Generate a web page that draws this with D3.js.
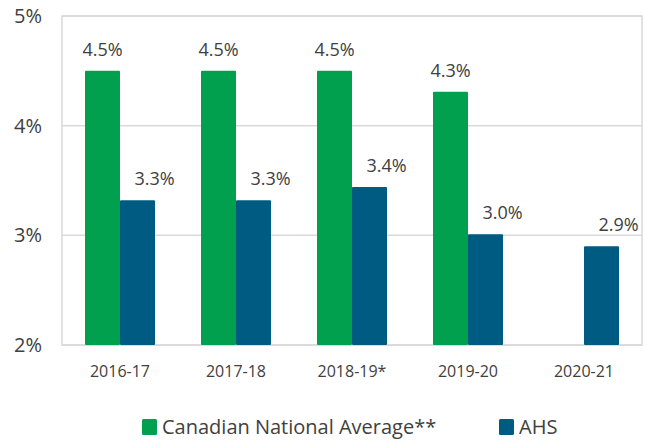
<!DOCTYPE html>
<html>
<head>
<meta charset="utf-8">
<script src="https://cdn.jsdelivr.net/npm/d3@7"></script>
<style>
body { margin: 0; background: #fff; }
text { font-family: "Open Sans", sans-serif; fill: #404040; }
</style>
</head>
<body>
<svg id="main_svg" width="646" height="440"></svg>
<script>
const years = ["2016-17", "2017-18", "2018-19*", "2019-20", "2020-21"]
const national = [4.5, 4.5, 4.5, 4.31, null]
const nationalLabels = ["4.5%", "4.5%", "4.5%", "4.3%", ""]
const ahs = [3.32, 3.32, 3.44, 3.01, 2.9]
const ahsLabels = ["3.3%", "3.3%", "3.4%", "3.0%", "2.9%"]
const yTicks = [2, 3, 4, 5]
const seriesNames = ["Canadian National Average**", "AHS"]
const colors = ["#00A04F", "#005B82"]

const svg = d3.select("#main_svg")
const plotLeft = 62, plotRight = 642, plotTop = 16, plotBottom = 345

const x = d3.scaleBand().domain(years).range([plotLeft, plotRight]).paddingInner(0).paddingOuter(0)
const y = d3.scaleLinear().domain([2, 5]).range([plotBottom, plotTop])
const barW = 35

// gridlines
svg.append("g")
    .selectAll("line")
    .data(yTicks)
    .join("line")
    .attr("x1", plotLeft)
    .attr("x2", plotRight)
    .attr("y1", d => y(d))
    .attr("y2", d => y(d))
    .attr("stroke", "#d9d9d9")
    .attr("stroke-width", 1.5)

// frame
svg.append("rect")
    .attr("x", plotLeft)
    .attr("y", plotTop)
    .attr("width", plotRight - plotLeft)
    .attr("height", plotBottom - plotTop)
    .attr("fill", "none")
    .attr("stroke", "#d9d9d9")
    .attr("stroke-width", 1.5)

// y tick labels
svg.append("g")
    .selectAll("text")
    .data(yTicks)
    .join("text")
    .attr("x", 42)
    .attr("y", d => y(d) + 7)
    .attr("text-anchor", "end")
    .attr("font-size", 20)
    .text(d => d + "%")

// x tick labels
svg.append("g")
    .selectAll("text")
    .data(years)
    .join("text")
    .attr("x", d => x(d) + x.bandwidth() / 2)
    .attr("y", 377)
    .attr("text-anchor", "middle")
    .attr("font-size", 16)
    .text(d => d)

function drawSeries(vals, labels, offset, labelShift, color) {
    const g = svg.append("g")
    const data = years.map((yr, i) => ({yr: yr, v: vals[i], lab: labels[i]})).filter(d => d.v != null)
    g.selectAll("rect")
        .data(data)
        .join("rect")
        .attr("x", d => x(d.yr) + x.bandwidth() / 2 + offset)
        .attr("y", d => y(d.v))
        .attr("width", barW)
        .attr("height", d => y(2) - y(d.v))
        .attr("rx", 1)
        .attr("fill", color)
    g.selectAll("text")
        .data(data)
        .join("text")
        .attr("x", d => x(d.yr) + x.bandwidth() / 2 + offset + barW / 2 + labelShift)
        .attr("y", d => y(d.v) - 15)
        .attr("text-anchor", "middle")
        .attr("font-size", 18)
        .text(d => d.lab)
}
drawSeries(national, nationalLabels, -barW, 0, colors[0])
drawSeries(ahs, ahsLabels, 0, 17, colors[1])

// legend
const legendX = [142, 499]
const lg = svg.append("g")
seriesNames.forEach((name, i) => {
    lg.append("rect")
        .attr("x", legendX[i])
        .attr("y", 419)
        .attr("width", 15)
        .attr("height", 16)
        .attr("rx", 1.5)
        .attr("fill", colors[i])
    lg.append("text")
        .attr("x", legendX[i] + 20)
        .attr("y", 434)
        .attr("font-size", 20)
        .text(name)
})
</script>
</body>
</html>
